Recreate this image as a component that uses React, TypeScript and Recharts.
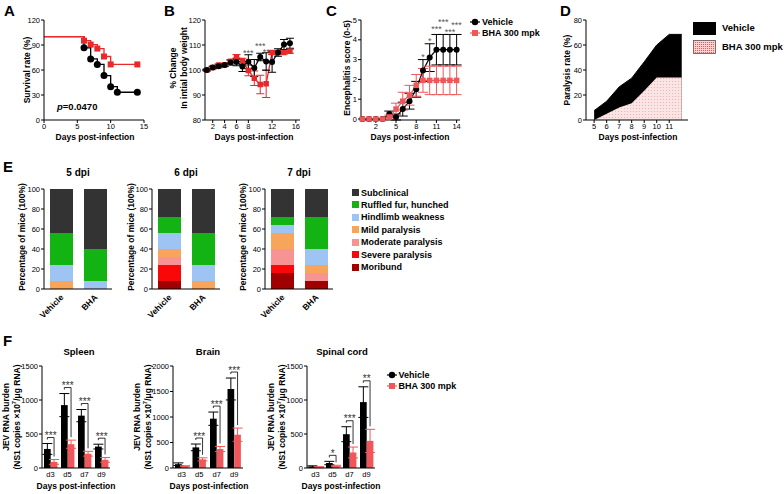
import React from "react";
import {
  Area,
  AreaChart,
  Bar,
  BarChart,
  ErrorBar,
  Line,
  LineChart,
  ReferenceDot,
  XAxis,
  YAxis,
} from "recharts";

const FONT = '"Liberation Sans", Arial, Helvetica, sans-serif';
const RED = "#e8282b";
const RED_SOFT = "#f0575a";

// A: survival (Kaplan-Meier)
const survDaysVehicle = [0, 6, 7, 8, 9, 10, 11, 14];
const survVehicle = [100, 86.7, 73.3, 66.7, 53.3, 40, 33.3, 33.3];
const survDaysBha = [0, 6, 7, 8, 9, 10, 14];
const survBha = [100, 95.2, 90.5, 85.7, 76.2, 66.7, 66.7];

// B: body weight
const weightDays = [1, 2, 3, 4, 5, 6, 7, 8, 9, 10, 11, 12, 13, 14, 15];
const weightVehicle = [100, 101, 101.5, 102, 103, 103.2, 101.4, 103.3, 100.8, 105.2, 103.4, 103.2, 107, 110.2, 110.7];
const weightVehicleErr = [0.4, 0.5, 0.6, 0.6, 1, 1.5, 2, 2.8, 3.4, 1.5, 3.5, 4.1, 1.5, 2, 2];
const weightBha = [100, 101, 102, 102, 103.5, 105.2, 103.7, 99.8, 96.7, 94.2, 94.5, 107, 107, 107, 107.5];
const weightBhaErr = [0.3, 0.5, 0.5, 0.5, 0.6, 1, 1, 2.1, 2.9, 3.7, 5.5, 0.8, 0.6, 0.6, 0.8];
const weightStars = [
  { day: 8, y: 107, text: "***" },
  { day: 10, y: 110, text: "***" },
  { day: 11, y: 107.6, text: "**" },
];

// C: encephalitis score
const scoreDays = [0, 1, 2, 3, 4, 5, 6, 7, 8, 9, 10, 11, 12, 13, 14];
const scoreVehicle = [0, 0, 0, 0, 0.25, 0.1, 0.5, 0.9, 1.5, 2.45, 3.1, 3.5, 3.5, 3.5, 3.5];
const scoreVehicleErr = [0, 0, 0, 0, 0.15, 0.15, 0.35, 0.4, 0.4, 0.55, 0.7, 0.77, 0.77, 0.77, 0.77];
const scoreBha = [0, 0, 0, 0, 0.1, 0.5, 0.9, 1.2, 1.7, 1.95, 1.95, 1.95, 1.95, 1.95, 1.95];
const scoreBhaErr = [0, 0, 0, 0, 0.1, 0.3, 0.45, 0.5, 0.55, 0.6, 0.72, 0.72, 0.72, 0.72, 0.72];
const scoreStars = [
  { day: 9, y: 3.15, text: "*" },
  { day: 10, y: 3.94, text: "*" },
  { day: 11, y: 4.55, text: "***" },
  { day: 12, y: 4.9, text: "***" },
  { day: 13, y: 4.4, text: "***" },
  { day: 14, y: 4.75, text: "***" },
];

// D: paralysis rate
const paraDays = [5, 6, 7, 8, 9, 10, 11, 12];
const paraVehicle = [7.5, 15, 26.5, 33.5, 46.5, 60, 68.5, 68.5];
const paraBha = [0, 5, 10, 13.5, 23.5, 34, 34, 34];

// E: clinical stages, bottom to top
const stages = [
  "Moribund",
  "Severe paralysis",
  "Moderate paralysis",
  "Mild paralysis",
  "Hindlimb weakness",
  "Ruffled fur, hunched",
  "Subclinical",
];
const stageColors = ["#a10000", "#f80808", "#f79393", "#f8a55c", "#9dc4f3", "#13b313", "#333333"];
const cohorts = ["Vehicle", "BHA"];
const dpi5Vehicle = [0, 0, 0, 8, 16, 32, 44];
const dpi5Bha = [0, 0, 0, 0, 8, 32, 60];
const dpi6Vehicle = [8, 16, 8, 8, 16, 16, 28];
const dpi6Bha = [0, 0, 0, 8, 16, 32, 44];
const dpi7Vehicle = [16, 8, 16, 16, 8, 8, 28];
const dpi7Bha = [8, 0, 8, 8, 16, 32, 28];

// F: viral RNA burden
const sampleDays = ["d3", "d5", "d7", "d9"];
const spleenVehicle = [280, 925, 770, 315];
const spleenVehicleErr = [80, 170, 90, 35];
const spleenBha = [90, 350, 210, 120];
const spleenBhaErr = [35, 60, 35, 35];
const spleenSig = ["***", "***", "***", "***"];
const brainVehicle = [75, 404, 967, 1549];
const brainVehicleErr = [25, 66, 130, 215];
const brainBha = [35, 170, 372, 653];
const brainBhaErr = [10, 30, 50, 130];
const brainSig = ["", "***", "***", "***"];
const spinalVehicle = [22, 73, 497, 969];
const spinalVehicleErr = [10, 25, 110, 225];
const spinalBha = [12, 30, 228, 399];
const spinalBhaErr = [8, 10, 80, 170];
const spinalSig = ["", "*", "***", "**"];

const axisLine = { stroke: "#000", strokeWidth: 1 };
const numTick = { fontSize: 7.5, fill: "#000", fontFamily: FONT };

const survVehicleData = survDaysVehicle.map((d, i) => ({ day: d, value: survVehicle[i] }));
const survBhaData = survDaysBha.map((d, i) => ({ day: d, value: survBha[i] }));
const weightData = weightDays.map((d, i) => ({
  day: d,
  veh: weightVehicle[i],
  vehErr: weightVehicleErr[i],
  bha: weightBha[i],
  bhaErr: weightBhaErr[i],
}));
const scoreData = scoreDays.map((d, i) => ({
  day: d,
  veh: scoreVehicle[i],
  vehErr: scoreVehicleErr[i],
  bha: scoreBha[i],
  bhaErr: scoreBhaErr[i],
}));
const paraData = paraDays.map((d, i) => ({ day: d, veh: paraVehicle[i], bha: paraBha[i] }));

const stackRows = (veh: number[], bha: number[]) =>
  cohorts.map((c, ci) => {
    const row: Record<string, number | string> = { group: c };
    stages.forEach((s, si) => (row[s] = (ci === 0 ? veh : bha)[si]));
    return row;
  });

const burdenRows = (veh: number[], vehErr: number[], bha: number[], bhaErr: number[], sig: string[]) =>
  sampleDays.map((d, i) => ({ day: d, veh: veh[i], vehErr: vehErr[i], bha: bha[i], bhaErr: bhaErr[i], sig: sig[i] }));

const circleDot = (r: number, fill: string, skipFirst = false) => (p: any) =>
  skipFirst && p.index === 0 ? (
    <g key={`c${p.index}`} />
  ) : (
    <circle key={`c${p.index}`} cx={p.cx} cy={p.cy} r={r} fill={fill} />
  );

const squareDot = (s: number, fill: string, skipFirst = false) => (p: any) =>
  skipFirst && p.index === 0 ? (
    <g key={`s${p.index}`} />
  ) : (
    <rect key={`s${p.index}`} x={p.cx - s / 2} y={p.cy - s / 2} width={s} height={s} fill={fill} />
  );

const starShape = (text: string) => (p: any) => (
  <text x={p.cx} y={p.cy + 3.5} textAnchor="middle" fontSize={9} fill="#555" fontFamily={FONT}>
    {text}
  </text>
);

// black bar that also draws the significance bracket to its red neighbour
function SigBar(props: any) {
  const { x, y, width, height, payload, fill } = props;
  const k = payload.veh > 0 ? height / payload.veh : 0;
  const base = y + height;
  const vehTop = y - payload.vehErr * k;
  const bhaTop = base - (payload.bha + payload.bhaErr) * k;
  const c1 = x + width / 2;
  const c2 = x + width * 1.5;
  const lvl = vehTop - 6;
  return (
    <g>
      <rect x={x} y={y} width={width} height={height} fill={fill} />
      {payload.sig ? (
        <g>
          <path d={`M${c1},${lvl + 2}V${lvl}H${c2}V${bhaTop - 3}`} stroke="#000" strokeWidth={0.8} fill="none" />
          <text x={(c1 + c2) / 2} y={lvl + 1.5} textAnchor="middle" fontSize={10} fill="#333" fontFamily={FONT}>
            {payload.sig}
          </text>
        </g>
      ) : null}
    </g>
  );
}

function SlantTick(p: any) {
  const x = p.x + 3;
  const y = p.y + 7;
  return (
    <text
      x={x}
      y={y}
      transform={`rotate(-45 ${x} ${y})`}
      textAnchor="end"
      fontSize={8.5}
      fontWeight={700}
      fill="#000"
      fontFamily={FONT}
    >
      {p.payload.value}
    </text>
  );
}

function Txt({
  x,
  y,
  size = 8.5,
  rotate = false,
  anchor = "middle",
  weight = 700,
  children,
}: {
  x: number;
  y: number;
  size?: number;
  rotate?: boolean;
  anchor?: "middle" | "start";
  weight?: number;
  children: React.ReactNode;
}) {
  const tx = anchor === "middle" ? "-50%" : "0";
  return (
    <div
      style={{
        position: "absolute",
        left: x,
        top: y,
        transform: `translate(${tx}, -50%)${rotate ? " rotate(-90deg)" : ""}`,
        fontSize: size,
        fontWeight: weight,
        whiteSpace: "nowrap",
        lineHeight: 1,
      }}
    >
      {children}
    </div>
  );
}

const Box = ({ left, top, children }: { left: number; top: number; children: React.ReactNode }) => (
  <div style={{ position: "absolute", left, top }}>{children}</div>
);

function StackChart({ veh, bha }: { veh: number[]; bha: number[] }) {
  return (
    <BarChart width={118} height={152} data={stackRows(veh, bha)} margin={{ top: 19, right: 6, bottom: 0, left: 0 }}>
      <XAxis dataKey="group" interval={0} axisLine={axisLine} tickLine={false} tickSize={0} tickMargin={2} height={33} tick={<SlantTick />} />
      <YAxis
        domain={[0, 100]}
        ticks={[0, 20, 40, 60, 80, 100]}
        width={44}
        axisLine={axisLine}
        tickLine={axisLine}
        tickSize={3}
        tickMargin={1}
        tick={numTick}
      />
      {stages.map((s, i) => (
        <Bar key={s} dataKey={s} stackId="a" fill={stageColors[i]} barSize={23} isAnimationActive={false} />
      ))}
    </BarChart>
  );
}

function BurdenChart({ rows, max, ticks, plotWidth, axisWidth }: { rows: any[]; max: number; ticks: number[]; plotWidth: number; axisWidth: number }) {
  return (
    <BarChart
      width={axisWidth + plotWidth + 5}
      height={138}
      data={rows}
      barGap={0}
      margin={{ top: 11, right: 5, bottom: 0, left: 0 }}
    >
      <XAxis dataKey="day" interval={0} axisLine={axisLine} tickLine={false} tickSize={3} tickMargin={1} height={25} tick={numTick} />
      <YAxis domain={[0, max]} ticks={ticks} width={axisWidth} axisLine={axisLine} tickLine={axisLine} tickSize={3} tickMargin={1} tick={numTick} />
      <Bar dataKey="veh" fill="#000" barSize={6.7} shape={<SigBar />} isAnimationActive={false}>
        <ErrorBar dataKey="vehErr" width={5} stroke="#000" strokeWidth={1} direction="y" />
      </Bar>
      <Bar dataKey="bha" fill={RED_SOFT} barSize={6.7} isAnimationActive={false}>
        <ErrorBar dataKey="bhaErr" width={5} stroke={RED_SOFT} strokeWidth={1} direction="y" />
      </Bar>
    </BarChart>
  );
}

const LegendDot = ({ color, square }: { color: string; square?: boolean }) => (
  <svg width={10} height={8} style={{ position: "absolute", left: -5, top: -4 }}>
    <line x1={0} y1={4} x2={10} y2={4} stroke={color} strokeWidth={1.2} />
    {square ? <rect x={2} y={1} width={6} height={6} fill={color} /> : <circle cx={5} cy={4} r={3.2} fill={color} />}
  </svg>
);

export default function App() {
  return (
    <div
      style={{
        position: "absolute",
        left: 0,
        top: 0,
        width: 784,
        height: 494,
        background: "#fff",
        color: "#000",
        fontFamily: FONT,
        overflow: "hidden",
      }}
    >
      {/* A */}
      <Box left={0} top={0}>
        <LineChart width={160} height={145} margin={{ top: 20, right: 16, bottom: 0, left: 0 }}>
          <XAxis type="number" dataKey="day" domain={[0, 15]} ticks={[0, 5, 10, 15]} height={25} axisLine={axisLine} tickLine={axisLine} tickSize={3} tickMargin={1} tick={numTick} />
          <YAxis type="number" domain={[0, 120]} ticks={[0, 30, 60, 90, 120]} width={44} axisLine={axisLine} tickLine={axisLine} tickSize={3} tickMargin={1} tick={numTick} />
          <Line data={survVehicleData} dataKey="value" type="stepAfter" stroke="#000" strokeWidth={1.3} dot={circleDot(3.5, "#000", true)} isAnimationActive={false} />
          <Line data={survBhaData} dataKey="value" type="stepAfter" stroke={RED} strokeWidth={1.3} dot={squareDot(6, RED, true)} isAnimationActive={false} />
        </LineChart>
      </Box>

      {/* B */}
      <Box left={160} top={0}>
        <LineChart width={150} height={145} data={weightData} margin={{ top: 20, right: 10, bottom: 0, left: 0 }}>
          <XAxis type="number" dataKey="day" domain={[0.7, 16.7]} ticks={[2, 4, 6, 8, 10, 12, 14, 16]} height={25} axisLine={axisLine} tickLine={axisLine} tickSize={3} tickMargin={1} tick={numTick} />
          <YAxis type="number" domain={[80, 120]} ticks={[80, 90, 100, 110, 120]} width={45} axisLine={axisLine} tickLine={axisLine} tickSize={3} tickMargin={1} tick={numTick} />
          <Line dataKey="bha" stroke={RED} strokeWidth={1.3} dot={squareDot(5.5, RED)} isAnimationActive={false}>
            <ErrorBar dataKey="bhaErr" width={4} stroke={RED} strokeWidth={1} direction="y" />
          </Line>
          <Line dataKey="veh" stroke="#000" strokeWidth={1.3} dot={circleDot(3, "#000")} isAnimationActive={false}>
            <ErrorBar dataKey="vehErr" width={4} stroke="#000" strokeWidth={1} direction="y" />
          </Line>
          {weightStars.map((s) => (
            <ReferenceDot key={`w${s.day}`} x={s.day} y={s.y} r={0} shape={starShape(s.text)} />
          ))}
        </LineChart>
      </Box>

      {/* C */}
      <Box left={310} top={0}>
        <LineChart width={160} height={145} data={scoreData} margin={{ top: 20, right: 10, bottom: 0, left: 0 }}>
          <XAxis type="number" dataKey="day" domain={[-0.2, 14.5]} ticks={[2, 5, 8, 11, 14]} height={25} axisLine={axisLine} tickLine={axisLine} tickSize={3} tickMargin={1} tick={numTick} />
          <YAxis type="number" domain={[0, 5]} ticks={[0, 1, 2, 3, 4, 5]} width={51} axisLine={axisLine} tickLine={axisLine} tickSize={3} tickMargin={1} tick={numTick} />
          <Line dataKey="veh" stroke="#000" strokeWidth={1.2} dot={circleDot(3, "#000")} isAnimationActive={false}>
            <ErrorBar dataKey="vehErr" width={5} stroke="#000" strokeWidth={1} direction="y" />
          </Line>
          <Line dataKey="bha" stroke={RED_SOFT} strokeWidth={1.2} dot={squareDot(5.5, RED_SOFT)} isAnimationActive={false}>
            <ErrorBar dataKey="bhaErr" width={5} stroke={RED_SOFT} strokeWidth={1} direction="y" />
          </Line>
          {scoreStars.map((s) => (
            <ReferenceDot key={`s${s.day}`} x={s.day} y={s.y} r={0} shape={starShape(s.text)} />
          ))}
        </LineChart>
      </Box>

      {/* D */}
      <Box left={555} top={0}>
        <AreaChart width={140} height={145} data={paraData} margin={{ top: 20, right: 7, bottom: 0, left: 0 }}>
          <defs>
            <pattern id="bhaDots" width="3" height="3" patternUnits="userSpaceOnUse">
              <rect width="3" height="3" fill="#fbe4e4" />
              <rect width="1" height="1" fill="#efb3b3" />
            </pattern>
          </defs>
          <XAxis type="number" dataKey="day" domain={[4.35, 12.5]} ticks={[5, 6, 7, 8, 9, 10, 11]} height={25} axisLine={axisLine} tickLine={axisLine} tickSize={3} tickMargin={1} tick={numTick} />
          <YAxis type="number" domain={[0, 80]} ticks={[0, 20, 40, 60, 80]} width={31} axisLine={axisLine} tickLine={axisLine} tickSize={3} tickMargin={1} tick={numTick} />
          <Area dataKey="veh" type="linear" stroke="#000" strokeWidth={1} fill="#000" fillOpacity={1} isAnimationActive={false} />
          <Area dataKey="bha" type="linear" stroke="none" fill="url(#bhaDots)" fillOpacity={1} isAnimationActive={false} />
        </AreaChart>
      </Box>

      {/* E */}
      <Box left={0} top={170}>
        <StackChart veh={dpi5Vehicle} bha={dpi5Bha} />
      </Box>
      <Box left={108} top={170}>
        <StackChart veh={dpi6Vehicle} bha={dpi6Bha} />
      </Box>
      <Box left={221} top={170}>
        <StackChart veh={dpi7Vehicle} bha={dpi7Bha} />
      </Box>

      {/* F */}
      <Box left={0} top={355}>
        <BurdenChart rows={burdenRows(spleenVehicle, spleenVehicleErr, spleenBha, spleenBhaErr, spleenSig)} max={1500} ticks={[0, 500, 1000, 1500]} axisWidth={42} plotWidth={68} />
      </Box>
      <Box left={130} top={355}>
        <BurdenChart rows={burdenRows(brainVehicle, brainVehicleErr, brainBha, brainBhaErr, brainSig)} max={2000} ticks={[0, 500, 1000, 1500, 2000]} axisWidth={43} plotWidth={70} />
      </Box>
      <Box left={264} top={355}>
        <BurdenChart rows={burdenRows(spinalVehicle, spinalVehicleErr, spinalBha, spinalBhaErr, spinalSig)} max={1500} ticks={[0, 500, 1000, 1500]} axisWidth={43} plotWidth={68} />
      </Box>

      {/* panel letters */}
      <Txt x={4} y={10} size={15} anchor="start">A</Txt>
      <Txt x={164} y={10} size={15} anchor="start">B</Txt>
      <Txt x={326} y={10} size={15} anchor="start">C</Txt>
      <Txt x={560} y={10} size={15} anchor="start">D</Txt>
      <Txt x={3} y={166} size={15} anchor="start">E</Txt>
      <Txt x={3} y={340} size={15} anchor="start">F</Txt>

      {/* A-D titles */}
      <Txt x={27} y={70} rotate>Survival rate (%)</Txt>
      <Txt x={95} y={137}>Days post-infection</Txt>
      <Txt x={57} y={107} size={9.5} anchor="start">
        <i>p</i>=0.0470
      </Txt>
      <Txt x={173} y={68} rotate>% Change</Txt>
      <Txt x={183.5} y={68} rotate>In intial body weight</Txt>
      <Txt x={254} y={137}>Days post-infection</Txt>
      <Txt x={347} y={68} rotate>Encephalitis score (0-5)</Txt>
      <Txt x={410} y={137}>Days post-infection</Txt>
      <Txt x={567} y={70} rotate>Paralysis rate (%)</Txt>
      <Txt x={638} y={137}>Days post-infection</Txt>

      {/* C legend */}
      <div style={{ position: "absolute", left: 475, top: 21.7 }}>
        <LegendDot color="#000" />
      </div>
      <Txt x={482} y={21.7} size={9} anchor="start">Vehicle</Txt>
      <div style={{ position: "absolute", left: 475, top: 33.3 }}>
        <LegendDot color={RED_SOFT} square />
      </div>
      <Txt x={482} y={33.3} size={9} anchor="start">BHA 300 mpk</Txt>

      {/* D legend */}
      <div style={{ position: "absolute", left: 693, top: 21.5, width: 23, height: 13.5, background: "#000" }} />
      <Txt x={722} y={28} size={9.5} anchor="start">Vehicle</Txt>
      <svg width={23} height={14} style={{ position: "absolute", left: 693, top: 39.5 }}>
        <defs>
          <pattern id="legendDots" width="2" height="2" patternUnits="userSpaceOnUse">
            <rect width="2" height="2" fill="#f9d4d4" />
            <rect width="1" height="1" fill="#e25b5b" />
          </pattern>
        </defs>
        <rect x={0.5} y={0.5} width={22} height={13} fill="url(#legendDots)" stroke="#555" strokeWidth={0.8} />
      </svg>
      <Txt x={722} y={46.5} size={9.5} anchor="start">BHA 300 mpk</Txt>

      {/* E titles and legend */}
      <Txt x={78} y={173} size={10}>5 dpi</Txt>
      <Txt x={186} y={173} size={10}>6 dpi</Txt>
      <Txt x={299} y={173} size={10}>7 dpi</Txt>
      <Txt x={21.7} y={237} rotate>Percentage of mice (100%)</Txt>
      <Txt x={130.5} y={237} rotate>Percentage of mice (100%)</Txt>
      <Txt x={243.3} y={237} rotate>Percentage of mice (100%)</Txt>
      {[...stages].reverse().map((s, i) => (
        <React.Fragment key={s}>
          <div
            style={{
              position: "absolute",
              left: 351.5,
              top: 189 + i * 12.45,
              width: 7,
              height: 7,
              background: stageColors[stages.length - 1 - i],
            }}
          />
          <Txt x={361} y={192.5 + i * 12.45} size={9} anchor="start">
            {s}
          </Txt>
        </React.Fragment>
      ))}

      {/* F titles and legend */}
      <Txt x={79} y={352} size={9.5}>Spleen</Txt>
      <Txt x={208} y={352} size={9.5}>Brain</Txt>
      <Txt x={342} y={352} size={9.5}>Spinal cord</Txt>
      {[42, 173, 307].map((ax) => (
        <React.Fragment key={ax}>
          <Txt x={ax - 36.5} y={417} rotate>JEV RNA burden</Txt>
          <Txt x={ax - 26.5} y={417} rotate>
            (NS1 copies ×10<sup style={{ fontSize: 6 }}>7</sup>/μg RNA)
          </Txt>
        </React.Fragment>
      ))}
      <Txt x={76} y={486}>Days post-infection</Txt>
      <Txt x={209} y={486}>Days post-infection</Txt>
      <Txt x={341} y={486}>Days post-infection</Txt>
      <div style={{ position: "absolute", left: 392, top: 375 }}>
        <LegendDot color="#000" />
      </div>
      <Txt x={398.5} y={375} size={9} anchor="start">Vehicle</Txt>
      <div style={{ position: "absolute", left: 392, top: 386 }}>
        <LegendDot color={RED_SOFT} square />
      </div>
      <Txt x={398.5} y={386} size={9} anchor="start">BHA 300 mpk</Txt>
    </div>
  );
}
